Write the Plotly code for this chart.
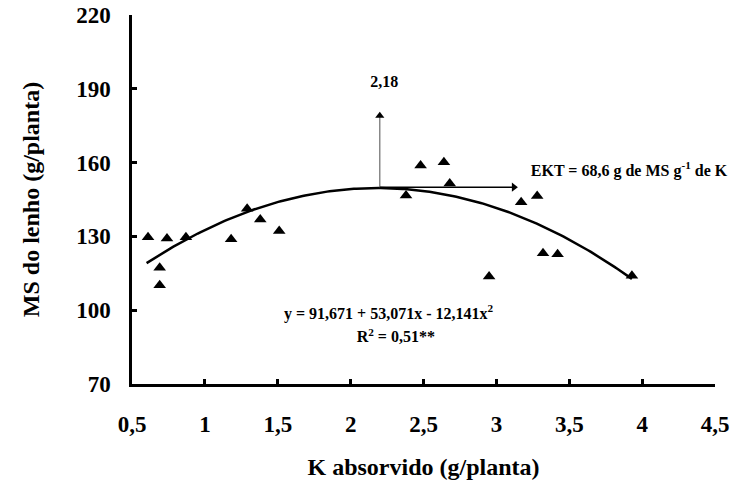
import numpy as np
import plotly.graph_objects as go

# Observed data (K absorbed, g/plant ; wood dry matter, g/plant)
k_absorvido = [0.61, 0.69, 0.69, 0.74, 0.87, 1.18, 1.29, 1.38, 1.51,
               2.38, 2.48, 2.64, 2.68, 2.95, 3.17, 3.28, 3.32, 3.42, 3.93]
ms_lenho = [129.7, 117.3, 110.1, 129.1, 129.7, 128.8, 141.2, 136.9, 132.2,
            146.6, 158.8, 160.1, 151.5, 113.7, 143.9, 146.4, 123.1, 122.7, 114.0]

# Fitted quadratic model given on the chart
coef_a, coef_b, coef_c = 91.671, 53.071, -12.141
x_fit_min, x_fit_max = 0.60, 3.93

x_ticks = [0.5, 1, 1.5, 2, 2.5, 3, 3.5, 4, 4.5]
y_ticks = [70, 100, 130, 160, 190, 220]

x_opt = 2.2
y_opt = 150
arrow_top = 181.5
arrow_right = 3.16

label_texts = ["2,18", "EKT = 68,6 g de MS g<sup>-1</sup> de K",
               "y = 91,671 + 53,071x - 12,141x<sup>2</sup>", "R<sup>2</sup> = 0,51**"]
label_x = [2.23, 3.91, 2.26, 2.31]
label_y = [192.5, 156.3, 98.0, 88.6]

FONT = "Liberation Serif"

xf = np.linspace(x_fit_min, x_fit_max, 200)
yf = coef_a + coef_b * xf + coef_c * xf ** 2

fig = go.Figure()
fig.add_trace(go.Scatter(x=xf, y=yf, mode="lines",
                         line=dict(color="black", width=2.5),
                         showlegend=False, hoverinfo="skip"))

# arrows (shaft lines + arrow-head markers)
fig.add_trace(go.Scatter(x=[x_opt, x_opt], y=[y_opt, arrow_top - 2.5], mode="lines",
                         line=dict(color="#777777", width=1.3),
                         showlegend=False, hoverinfo="skip"))
fig.add_trace(go.Scatter(x=[x_opt], y=[arrow_top - 2.5], mode="markers",
                         marker=dict(symbol="triangle-up", size=8, color="black"),
                         showlegend=False, hoverinfo="skip"))
fig.add_trace(go.Scatter(x=[x_opt, arrow_right - 0.04], y=[y_opt, y_opt], mode="lines",
                         line=dict(color="black", width=1.5),
                         showlegend=False, hoverinfo="skip"))
fig.add_trace(go.Scatter(x=[arrow_right - 0.04], y=[y_opt], mode="markers",
                         marker=dict(symbol="triangle-right", size=8, color="black"),
                         showlegend=False, hoverinfo="skip"))

fig.add_trace(go.Scatter(x=k_absorvido, y=ms_lenho, mode="markers",
                         marker=dict(symbol="triangle-up", size=11, color="black"),
                         showlegend=False))

fig.add_trace(go.Scatter(x=label_x, y=label_y, mode="text", text=label_texts,
                         textposition="middle center",
                         textfont=dict(family=FONT, size=16, color="black", weight="bold"),
                         showlegend=False, hoverinfo="skip", cliponaxis=False))

title_font = dict(family=FONT, size=24, color="black", weight="bold")
axis_common = dict(showline=True, linecolor="black", linewidth=2.5, ticks="inside",
                   ticklen=5, tickwidth=2.5, tickcolor="black", showgrid=False,
                   zeroline=False, mirror=False,
                   tickfont=dict(family=FONT, size=23, color="black", weight="bold"))

fig.update_xaxes(range=[0.5, 4.5], tickvals=x_ticks, ticklabelstandoff=18,
                 title=dict(text="K absorvido (g/planta)", font=title_font, standoff=22),
                 **axis_common)
fig.update_yaxes(range=[70, 220], tickvals=y_ticks, ticklabelstandoff=14,
                 title=dict(text="MS do lenho (g/planta)", font=title_font, standoff=30),
                 **axis_common)

fig.update_layout(width=740, height=486, plot_bgcolor="white", paper_bgcolor="white",
                  separators=", ",
                  margin=dict(l=132, r=25, t=15, b=102, autoexpand=False),
                  font=dict(family=FONT, color="black"))

fig.write_html("out.html")
